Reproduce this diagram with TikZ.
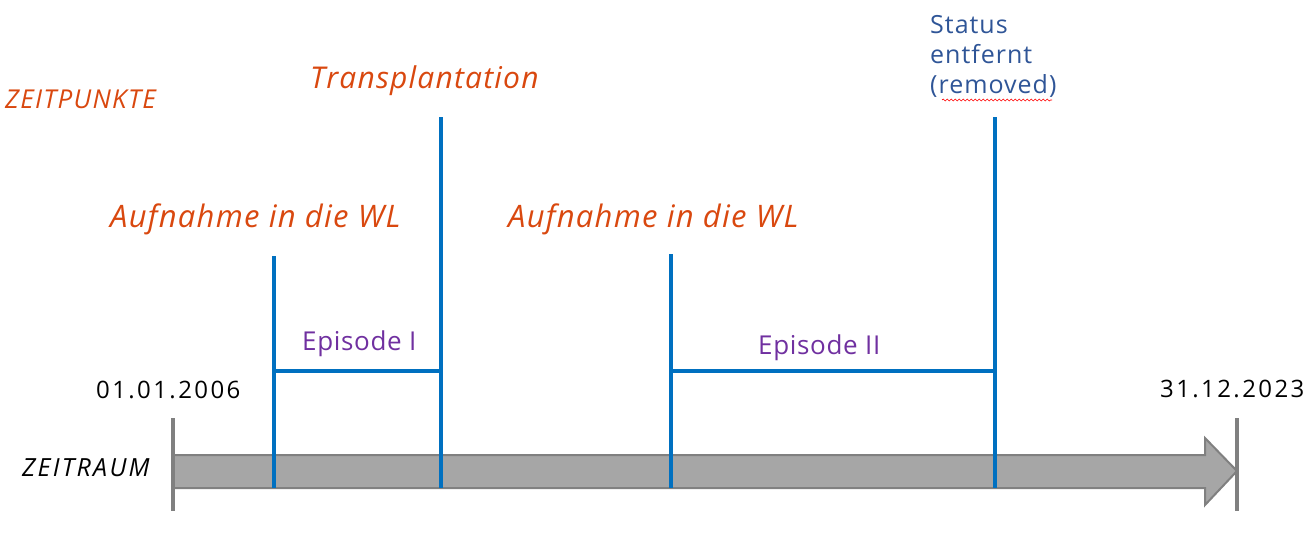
\documentclass[tikz,border=0pt]{standalone}
\usepackage{fontspec}
\setmainfont{Open Sans}
\usetikzlibrary{decorations.pathmorphing}
\definecolor{orng}{HTML}{D9480F}
\definecolor{blu}{HTML}{0070C0}
\definecolor{stat}{HTML}{2F5597}
\definecolor{purp}{HTML}{7030A0}
\definecolor{gfill}{HTML}{A6A6A6}
\definecolor{gline}{HTML}{808080}
\newcommand{\fs}[3]{\fontsize{#1}{#2}\selectfont\addfontfeatures{LetterSpace=#3}}
\tikzset{
  evt/.style={font=\itshape\fs{31}{36}{4}, text=orng, inner sep=0pt, anchor=base west},
  eplab/.style={font=\fs{26}{30}{2.5}, text=purp, inner sep=0pt, anchor=base west},
  datelab/.style={font=\fs{24}{28}{10}, text=black, inner sep=0pt, anchor=base west},
  bline/.style={draw=blu, line width=3.5pt},
  tick/.style={draw=gline, line width=3.5pt},
}
\begin{document}
\begin{tikzpicture}[x=1pt,y=-1pt]
\useasboundingbox (0,0) rectangle (1311,542);
% arrow
\filldraw[fill=gfill, draw=gline, line width=2pt]
  (173,455) -- (1205,455) -- (1205,438) -- (1237,471) -- (1205,505) -- (1205,488) -- (173,488) -- cycle;
\coordinate (t1a) at (173,418); \coordinate (t1b) at (173,511);
\coordinate (t2a) at (1237,418); \coordinate (t2b) at (1237,511);
\draw[tick] (t1a) -- (t1b);
\draw[tick] (t2a) -- (t2b);
% blue lines
\coordinate (a1t) at (274,256); \coordinate (a1b) at (274,488);
\coordinate (tpt) at (441,117); \coordinate (tpb) at (441,488);
\coordinate (a2t) at (671,254); \coordinate (a2b) at (671,488);
\coordinate (rmt) at (995,117); \coordinate (rmb) at (995,488);
\coordinate (e1l) at (274,371); \coordinate (e1r) at (441,371);
\coordinate (e2l) at (671,371); \coordinate (e2r) at (995,371);
\draw[bline] (a1t) -- (a1b);
\draw[bline] (tpt) -- (tpb);
\draw[bline] (a2t) -- (a2b);
\draw[bline] (rmt) -- (rmb);
\draw[bline] (e1l) -- (e1r);
\draw[bline] (e2l) -- (e2r);
% texts
\node[evt, font=\itshape\fs{26}{30}{5}] (zp) at (5,108) {ZEITPUNKTE};
\node[evt, font=\itshape\fs{30}{35}{4}] (tp) at (310,88) {Transplantation};
\node[evt] (auf1) at (110,227) {Aufnahme in die WL};
\node[evt] (auf2) at (508,227) {Aufnahme in die WL};
\node[font=\fs{25}{30}{4}, text=stat, inner sep=0pt, anchor=base west, align=left] (st) at (930,93) {Status\\entfernt\\(removed)};
\draw[red, line width=0.6pt, decorate, decoration={snake, amplitude=1pt, segment length=4pt}] (942,100) -- (1052,100);
\node[eplab] (ep1) at (302,350) {Episode I};
\node[eplab] (ep2) at (758,354) {Episode II};
\node[datelab] (d1) at (96,398) {01.01.2006};
\node[datelab] (d2) at (1160,397) {31.12.2023};
\node[datelab, font=\itshape\fs{25}{29}{9}] (zr) at (22,476) {ZEITRAUM};
\end{tikzpicture}
\end{document}
